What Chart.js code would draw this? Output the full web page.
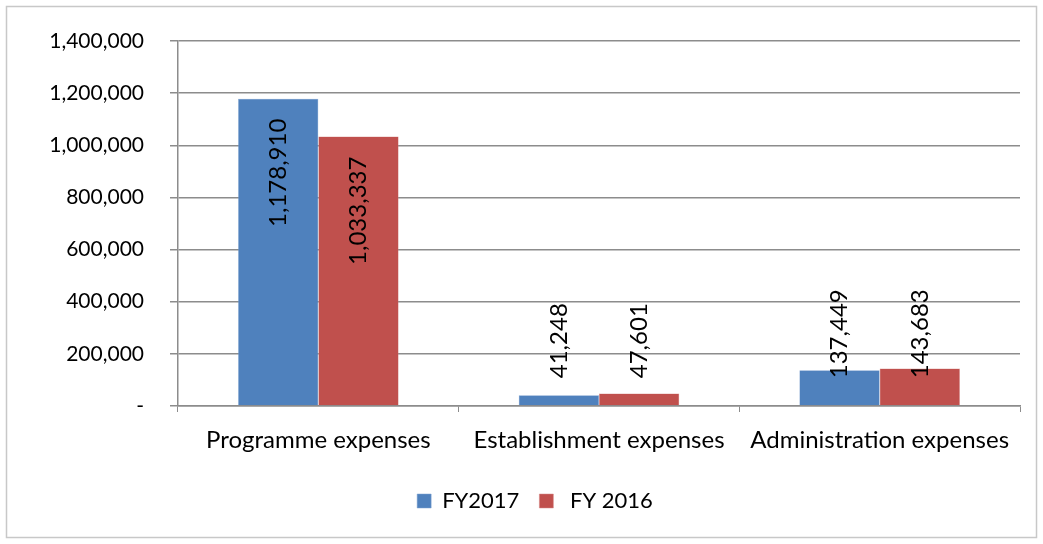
<!DOCTYPE html>
<html>
<head>
<meta charset="utf-8">
<script src="https://cdn.jsdelivr.net/npm/chart.js@4.4.1/dist/chart.umd.min.js"></script>
<style>
  html, body { margin: 0; padding: 0; background: #fff; }
  #wrap { width: 1043px; height: 544px; }
</style>
</head>
<body>
<div id="wrap"><canvas id="chart" width="1043" height="544"></canvas></div>
<script>
// data
const categories = ["Programme expenses", "Establishment expenses", "Administration expenses"];
const seriesNames = ["FY2017", " FY 2016"];
const fy2017 = [1178910, 41248, 137449];
const fy2016 = [1033337, 47601, 143683];
const yTicks = [0, 200000, 400000, 600000, 800000, 1000000, 1200000, 1400000];

const FONT = "Lato, 'Open Sans', sans-serif";
const GRID = "#8c8c8c";

function fmt(v) {
  return v === 0 ? "-" : v.toLocaleString("en-US");
}

// Outer frame like the Excel chart area
const framePlugin = {
  id: "frame",
  beforeDraw(chart) {
    const c = chart.ctx;
    c.save();
    c.fillStyle = "#fff";
    c.fillRect(0, 0, chart.width, chart.height);
    c.strokeStyle = "#c8c8c8";
    c.lineWidth = 1.5;
    c.strokeRect(6.5, 6.5, chart.width - 13, chart.height - 13);
    c.restore();
  },
};

// vertical value labels, inside end; kept above the axis for short bars
const valueLabels = {
  id: "valueLabels",
  afterDatasetsDraw(chart) {
    const c = chart.ctx;
    c.save();
    c.font = "24px " + FONT;
    c.fillStyle = "#000";
    c.textBaseline = "middle";
    c.textAlign = "right";
    chart.data.datasets.forEach((ds, i) => {
      chart.getDatasetMeta(i).data.forEach((bar, j) => {
        const txt = fmt(ds.data[j]);
        const w = c.measureText(txt).width;
        const top = Math.min(bar.y + 20, bar.base - 27 - w);
        c.save();
        c.translate(bar.x, top);
        c.rotate(-Math.PI / 2);
        c.fillText(txt, 0, 0);
        c.restore();
      });
    });
    c.restore();
  },
};

new Chart(document.getElementById("chart"), {
  type: "bar",
  data: {
    labels: categories,
    datasets: [
      { label: seriesNames[0], data: fy2017, backgroundColor: "#4f81bd", borderColor: "#7ea3d0", borderWidth: 0.5 },
      { label: seriesNames[1], data: fy2016, backgroundColor: "#c0504d", borderColor: "#d68a88", borderWidth: 0.5 },
    ],
  },
  plugins: [framePlugin, valueLabels],
  options: {
    responsive: false,
    animation: false,
    categoryPercentage: 0.572,
    barPercentage: 1,
    // left padding nudges the centred legend to where Excel put it
    layout: { padding: { left: 50, right: 23, top: 41, bottom: 22 } },
    plugins: {
      tooltip: { enabled: false },
      legend: {
        position: "bottom",
        labels: {
          color: "#000",
          font: { family: FONT, size: 22 },
          boxWidth: 14,
          boxHeight: 14,
          padding: 20,
        },
      },
    },
    scales: {
      x: {
        grid: { drawOnChartArea: false, drawTicks: true, tickLength: 6, color: GRID, offset: true },
        border: { color: GRID, width: 1.5 },
        ticks: { color: "#000", font: { family: FONT, size: 24 }, padding: 14, maxRotation: 0 },
        afterFit(scale) { scale.height = 64; },
      },
      y: {
        min: 0,
        max: 1400000,
        afterBuildTicks(scale) { scale.ticks = yTicks.map((v) => ({ value: v })); },
        grid: { color: GRID, lineWidth: 1.5, tickLength: 8 },
        border: { color: GRID, width: 1.5 },
        ticks: {
          color: "#000",
          font: { family: FONT, size: 21 },
          padding: 26,
          callback: (v) => fmt(v),
        },
        afterFit(scale) { scale.width = 128; },
      },
    },
  },
});
</script>
</body>
</html>
